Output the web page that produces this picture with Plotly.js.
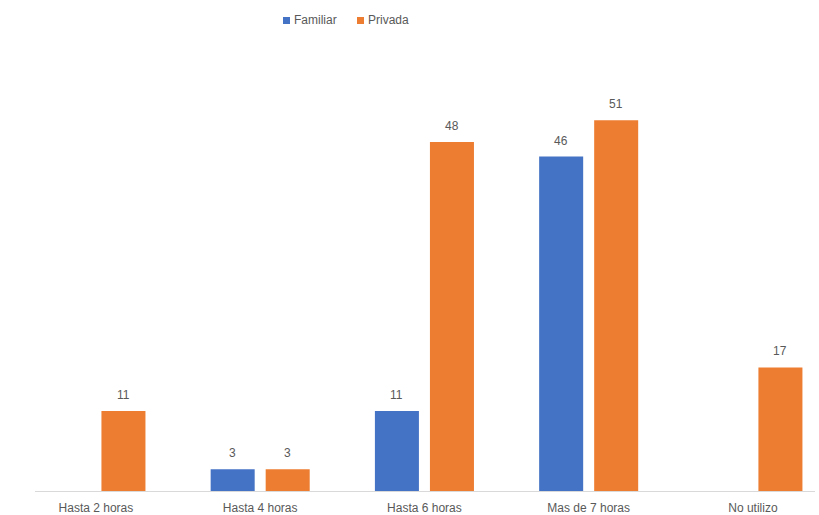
<!DOCTYPE html>
<html><head><meta charset="utf-8">
<script src="https://cdn.plot.ly/plotly-3.0.1.min.js"></script>
<style>html,body{margin:0;padding:0;background:#fff;}#chart{width:819px;height:515px;}</style>
</head><body><div id="chart"></div>
<script>
const categories = ["Hasta 2 horas", "Hasta 4 horas", "Hasta 6 horas", "Mas de 7 horas", "No utilizo"];
const familiar = [null, 3, 11, 46, null];
const privada = [11, 3, 48, 51, 17];
const seriesNames = ["Familiar", "Privada"];
const colors = ["#4472C4", "#ED7D31"];

const traces = [familiar, privada].map((vals, i) => ({
  type: "bar", x: categories, y: vals, name: seriesNames[i],
  marker: {color: colors[i]}, hoverinfo: "skip"
}));

const FONT = "Liberation Sans, Arial, sans-serif";
const annotations = [];
[familiar, privada].forEach((vals, i) => {
  vals.forEach((v, j) => {
    if (v === null) return;
    annotations.push({
      x: categories[j], y: v, xref: "x", yref: "y",
      text: String(v), showarrow: false, yanchor: "bottom",
      xshift: i === 0 ? -27.5 : 27.5, yshift: 7,
      font: {family: FONT, size: 12, color: "#595959"}
    });
  });
});

// custom compact legend (paper/pixel positioned)
const W = 819, H = 515, ML = 35, MR = 4, MT = 60, MB = 24;
const pw = W - ML - MR, ph = H - MT - MB;
const px = p => (p - ML) / pw;
const py = p => (H - MB - p) / ph;
const legendX = [283, 357];
const shapes = [];
seriesNames.forEach((n, i) => {
  shapes.push({type: "rect", xref: "paper", yref: "paper",
    x0: px(legendX[i]), x1: px(legendX[i] + 7), y0: py(24), y1: py(17),
    fillcolor: colors[i], line: {width: 0}});
  annotations.push({xref: "paper", yref: "paper", x: px(legendX[i] + 9), y: py(20.5),
    xanchor: "left", yanchor: "middle", text: n, showarrow: false,
    font: {family: FONT, size: 12, color: "#595959"}});
});

const layout = {
  width: W, height: H,
  margin: {l: ML, r: MR, t: MT, b: MB},
  paper_bgcolor: "#fff", plot_bgcolor: "#fff",
  barmode: "group", bargap: 0.33, bargroupgap: 0.2,
  font: {family: FONT, size: 12, color: "#595959"},
  xaxis: {
    type: "category", range: [-0.371, 4.378],
    showline: true, linecolor: "#d9d9d9", linewidth: 1,
    ticks: "outside", ticklen: 6, tickcolor: "rgba(0,0,0,0)",
    showgrid: false, zeroline: false,
    tickfont: {size: 12, color: "#595959"}
  },
  yaxis: {range: [0, 59.28], visible: false, showgrid: false, zeroline: false},
  showlegend: false,
  shapes: shapes,
  annotations: annotations
};

Plotly.newPlot("chart", traces, layout, {displayModeBar: false, staticPlot: true});
</script></body></html>
